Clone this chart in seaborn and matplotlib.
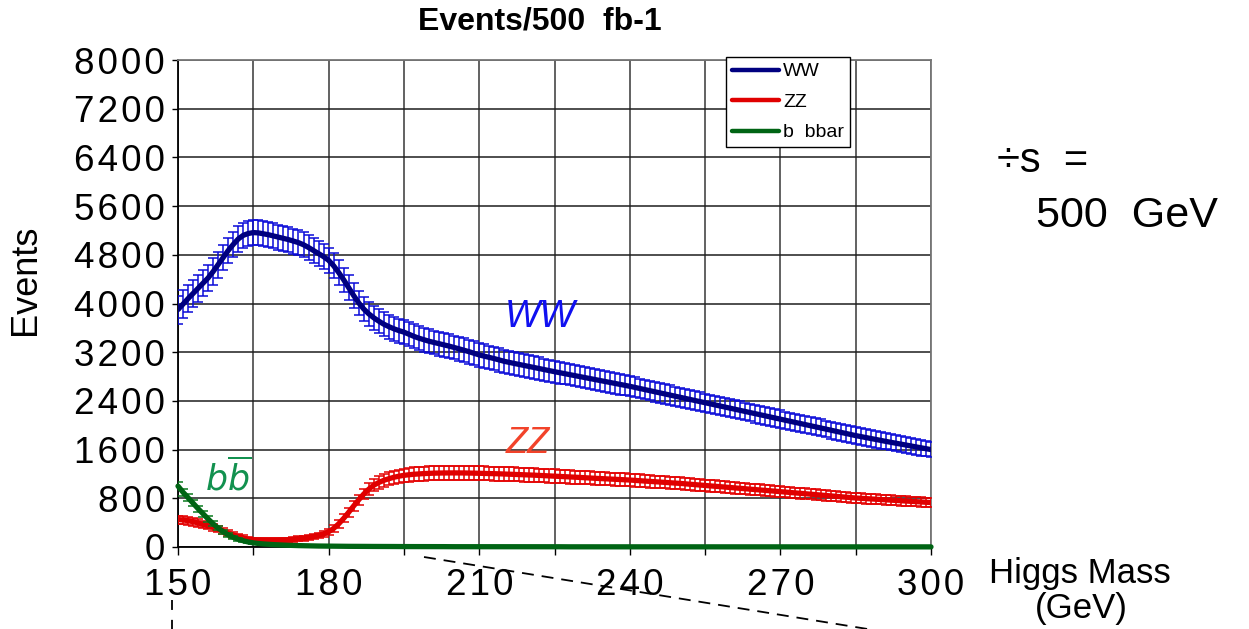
import matplotlib
matplotlib.use("Agg")
import matplotlib.pyplot as plt
from matplotlib.lines import Line2D
from matplotlib.ticker import FixedLocator, FixedFormatter, MultipleLocator
import pandas as pd
import seaborn as sns

# Higgs mass scan, 1 GeV steps
MASS = list(range(150, 301))

# H -> WW expected events per 500 fb-1
WW = [
    3900, 3990, 4080, 4165, 4250, 4335, 4420, 4525, 4640, 4755,
    4870, 4970, 5060, 5120, 5150, 5165, 5160, 5145, 5130, 5110,
    5090, 5070, 5050, 5025, 5000, 4965, 4920, 4870, 4820, 4770,
    4710, 4620, 4510, 4390, 4260, 4130, 4010, 3910, 3830, 3765,
    3710, 3660, 3620, 3585, 3555, 3530, 3495, 3460, 3430, 3405,
    3380, 3360, 3340, 3320, 3300, 3278, 3255, 3232, 3208, 3182,
    3155, 3135, 3115, 3095, 3072, 3050, 3032, 3015, 2998, 2982,
    2965, 2948, 2931, 2914, 2897, 2880, 2864, 2848, 2832, 2816,
    2800, 2784, 2768, 2752, 2736, 2720, 2704, 2688, 2672, 2656,
    2640, 2622, 2604, 2586, 2568, 2550, 2532, 2514, 2496, 2478,
    2460, 2442, 2424, 2406, 2388, 2370, 2352, 2334, 2316, 2298,
    2280, 2262, 2244, 2226, 2208, 2190, 2172, 2154, 2136, 2118,
    2100, 2082, 2064, 2046, 2028, 2010, 1992, 1974, 1956, 1938,
    1920, 1902, 1884, 1866, 1848, 1830, 1814, 1798, 1782, 1766,
    1750, 1735, 1720, 1705, 1690, 1675, 1660, 1645, 1630, 1615,
    1600,
]
WW_ERR = [
    230, 228, 226, 224, 222, 220, 218, 216, 214, 212,
    211, 210, 210, 209, 208, 208, 207, 207, 206, 206,
    205, 205, 205, 204, 204, 204, 203, 203, 203, 202,
    202, 202, 201, 201, 201, 200, 200, 200, 199, 199,
    199, 198, 198, 198, 197, 197, 197, 196, 196, 196,
    195, 195, 195, 195, 195, 195, 195, 195, 195, 195,
    195, 194, 193, 192, 191, 190, 189, 188, 187, 186,
    185, 184, 183, 182, 181, 180, 179, 178, 177, 176,
    175, 174, 173, 172, 171, 170, 169, 168, 167, 166,
    165, 164, 163, 162, 161, 160, 159, 158, 157, 156,
    155, 154, 153, 152, 151, 150, 150, 149, 149, 148,
    148, 147, 147, 146, 146, 145, 145, 144, 144, 143,
    143, 142, 142, 141, 141, 140, 140, 139, 139, 138,
    138, 137, 137, 136, 136, 135, 135, 134, 134, 133,
    133, 132, 132, 131, 131, 130, 130, 129, 129, 128,
    128,
]

# H -> ZZ
ZZ = [
    450, 445, 432, 415, 395, 372, 350, 325, 295, 262,
    230, 200, 172, 148, 130, 118, 110, 106, 104, 105,
    108, 113, 118, 126, 135, 146, 158, 173, 192, 215,
    250, 305, 380, 470, 570, 675, 775, 870, 950, 1015,
    1060, 1095, 1122, 1145, 1163, 1177, 1187, 1195, 1201, 1206,
    1210, 1213, 1215, 1216, 1217, 1217, 1217, 1216, 1215, 1213,
    1211, 1209, 1207, 1205, 1202, 1199, 1196, 1193, 1190, 1187,
    1184, 1180, 1176, 1172, 1168, 1164, 1160, 1156, 1151, 1147,
    1143, 1138, 1134, 1129, 1125, 1120, 1116, 1112, 1108, 1104,
    1100, 1094, 1089, 1083, 1078, 1072, 1067, 1061, 1056, 1050,
    1045, 1038, 1031, 1025, 1018, 1011, 1004, 998, 991, 984,
    977, 970, 964, 957, 950, 943, 937, 930, 923, 917,
    910, 903, 896, 889, 882, 875, 868, 861, 854, 847,
    840, 833, 826, 819, 812, 805, 800, 795, 790, 785,
    780, 775, 770, 765, 760, 755, 750, 745, 740, 735,
    730,
]
ZZ_ERR = [
    66, 65, 64, 62, 60, 58, 56, 54, 52, 50,
    48, 46, 44, 42, 40, 38, 37, 36, 36, 36,
    36, 37, 38, 39, 40, 41, 42, 43, 45, 47,
    50, 54, 60, 66, 72, 78, 84, 89, 94, 98,
    101, 104, 106, 108, 110, 111, 112, 113, 114, 115,
    115, 115, 115, 115, 115, 115, 115, 115, 115, 115,
    115, 115, 114, 114, 114, 113, 113, 113, 112, 112,
    112, 111, 111, 111, 110, 110, 110, 109, 109, 109,
    108, 108, 107, 107, 106, 106, 105, 105, 104, 104,
    103, 103, 102, 102, 101, 101, 100, 100, 99, 99,
    98, 98, 97, 97, 96, 96, 95, 95, 94, 94,
    93, 93, 92, 92, 91, 91, 90, 90, 89, 89,
    88, 88, 87, 87, 86, 86, 86, 85, 85, 85,
    84, 84, 84, 83, 83, 83, 82, 82, 82, 81,
    81, 81, 80, 80, 80, 79, 79, 79, 78, 78,
    78,
]

# H -> b bbar
BB = [
    1000, 900, 810, 720, 630, 545, 460, 380, 310, 250,
    200, 160, 128, 102, 82, 68, 58, 50, 44, 39,
    35, 31, 28, 25, 23, 21, 19, 17, 16, 15,
    14, 13, 12, 12, 11, 11, 10, 10, 9, 9,
    9, 8, 8, 8, 7, 7, 7, 7, 6, 6,
    6, 6, 6, 6, 5, 5, 5, 5, 5, 5,
    5, 5, 5, 5, 4, 4, 4, 4, 4, 4,
    4, 4, 4, 4, 4, 4, 4, 3, 3, 3,
    3, 3, 3, 3, 3, 3, 3, 3, 3, 3,
    3, 3, 3, 3, 3, 3, 3, 3, 3, 2,
    2, 2, 2, 2, 2, 2, 2, 2, 2, 2,
    2, 2, 2, 2, 2, 2, 2, 2, 2, 2,
    2, 2, 2, 2, 2, 2, 2, 2, 2, 2,
    2, 2, 2, 2, 2, 2, 2, 2, 2, 2,
    2, 2, 2, 2, 2, 2, 2, 2, 2, 2,
    2,
]
BB_ERR = [
    62, 58, 55, 52, 49, 46, 42, 39, 35, 32,
    29, 26, 23, 21, 19, 17, 15, 14, 13, 12,
    11, 10, 10, 9, 9, 8, 8, 8, 7, 7,
    7, 7, 6, 6, 6, 6, 6, 6, 5, 5,
    5, 5, 5, 5, 5, 5, 5, 5, 5, 5,
    5, 5, 5, 5, 5, 5, 5, 5, 5, 5,
    5, 5, 5, 5, 4, 4, 4, 4, 4, 4,
    4, 4, 4, 4, 4, 4, 4, 4, 4, 4,
    4, 4, 4, 4, 4, 4, 4, 4, 4, 4,
    4, 4, 4, 4, 4, 4, 4, 4, 4, 4,
    4, 4, 4, 4, 4, 4, 4, 4, 4, 4,
    4, 4, 4, 4, 4, 4, 4, 4, 4, 4,
    4, 4, 4, 4, 4, 4, 4, 4, 4, 4,
    4, 4, 4, 4, 4, 4, 4, 4, 4, 4,
    4, 4, 4, 4, 4, 4, 4, 4, 4, 4,
    4,
]

SERIES = ["WW", "ZZ", "b  bbar"]
X_TICKS = [150, 180, 210, 240, 270, 300]
X_TICK_LABELS = ["150", "180", "210", "240", "270", "300"]
Y_TICKS = [0, 800, 1600, 2400, 3200, 4000, 4800, 5600, 6400, 7200, 8000]
Y_TICK_LABELS = ["0", "800", "1600", "2400", "3200", "4000", "4800",
                 "5600", "6400", "7200", "8000"]

sns.set_theme(style="white")
plt.rcParams["font.family"] = ["Liberation Sans", "DejaVu Sans"]
plt.rcParams["text.color"] = "black"
plt.rcParams["xtick.color"] = "black"
plt.rcParams["ytick.color"] = "black"
plt.rcParams["axes.labelcolor"] = "black"

HAIR = "\u200a"


def spaced(s):
    return HAIR.join(s)


W, H = 1249, 629
fig = plt.figure(figsize=(W / 100, H / 100), dpi=100)
ax = fig.add_axes([178 / W, 1 - 547 / H, (931 - 178) / W, (547 - 60) / H])

styles = {
    "WW": dict(values=WW, err=WW_ERR, line="#000080", bar="#0a0ad8", clip=True),
    "ZZ": dict(values=ZZ, err=ZZ_ERR, line="#e00000", bar="#e40000", clip=True),
    "b  bbar": dict(values=BB, err=BB_ERR, line="#006414", bar="#0a7a1e", clip=False),
}

for z, name in enumerate(SERIES):
    st = styles[name]
    df = pd.DataFrame({"mass": MASS, "events": st["values"]})
    ax.errorbar(MASS, st["values"], yerr=st["err"], fmt="none",
                ecolor=st["bar"], elinewidth=1.1, capsize=3.3, capthick=1.1,
                zorder=3 + 2 * z)
    sns.lineplot(data=df, x="mass", y="events", ax=ax, color=st["line"],
                 linewidth=3.8, estimator=None, legend=False,
                 zorder=4 + 2 * z, clip_on=st["clip"])

ax.set_xlim(150, 300)
ax.set_ylim(0, 8000)
ax.xaxis.set_major_locator(FixedLocator(X_TICKS))
ax.xaxis.set_major_formatter(FixedFormatter([spaced(t) for t in X_TICK_LABELS]))
ax.xaxis.set_minor_locator(MultipleLocator(15))
ax.yaxis.set_major_locator(FixedLocator(Y_TICKS))
ax.yaxis.set_major_formatter(FixedFormatter([spaced(t) for t in Y_TICK_LABELS]))

ax.tick_params(axis="x", which="both", direction="out", length=6, width=1,
               color="black", labelcolor="black", bottom=True, pad=9,
               labelsize=26.5)
ax.tick_params(axis="y", which="major", direction="out", length=4.3, width=1,
               color="black", labelcolor="black", left=True, pad=5,
               labelsize=26.5)
ax.set_xlabel("")
ax.set_ylabel("")

ax.grid(False)
ax.xaxis.grid(True, which="both", color="#555555", linewidth=1.3)
ax.yaxis.grid(True, which="major", color="#1e1e1e", linewidth=1.1)
ax.set_axisbelow(True)
for side in ("left", "bottom"):
    ax.spines[side].set_color("black")
    ax.spines[side].set_linewidth(1.3)
for side in ("top", "right"):
    ax.spines[side].set_color("#777777")
    ax.spines[side].set_linewidth(1.3)

# Legend
handles = [Line2D([0], [0], color=styles[n]["line"], linewidth=3.2) for n in SERIES]
leg = fig.legend(handles, SERIES, loc="upper left",
                 bbox_to_anchor=(726 / W, 1 - 57 / H), bbox_transform=fig.transFigure,
                 borderaxespad=0, fontsize=14, frameon=True, fancybox=False,
                 edgecolor="black", borderpad=0.3, handlelength=2.4,
                 handletextpad=0.25, labelspacing=0.66)
leg.get_frame().set_linewidth(1.0)
leg.get_frame().set_facecolor("white")
leg.get_frame().set_alpha(1)
for t in leg.get_texts():
    t.set_color("black")

# Channel labels on the curves
ax.text(222.1, 3615, "WW", color="#1010f0", fontsize=27, style="italic",
        ha="center", va="baseline", zorder=10)
ax.text(219.6, 1544, "ZZ", color="#f2432a", fontsize=26, style="italic",
        ha="center", va="baseline", zorder=10)
ax.text(159.9, 936, r"$b\overline{b}$", color="#12914f", fontsize=25,
        ha="center", va="baseline", zorder=10)

# Titles and axis captions
fig.text(540 / W, 1 - 21 / H, "Events/500  fb-1", fontsize=23, fontweight="bold",
         ha="center", va="center")
fig.text(25 / W, 1 - 280 / H, "Events", fontsize=26, rotation=90,
         ha="center", va="center")
fig.text(1080 / W, 1 - 583 / H, "Higgs Mass", fontsize=25, ha="center", va="baseline")
fig.text(1081 / W, 1 - 618 / H, "(GeV)", fontsize=25, ha="center", va="baseline")
fig.text(997 / W, 1 - 172 / H, "÷s  =", fontsize=30, ha="left", va="baseline")
fig.text(1036 / W, 1 - 227 / H, "500  GeV", fontsize=31, ha="left", va="baseline")

# Dashed guide lines under the axis
fig.add_artist(Line2D([172 / W, 172 / W], [1 - 600 / H, 1 - 632 / H],
                      transform=fig.transFigure, color="black", linewidth=1.3,
                      linestyle=(0, (5.5, 5.5))))
fig.add_artist(Line2D([424 / W, 886 / W], [1 - 557 / H, 1 - 632 / H],
                      transform=fig.transFigure, color="black", linewidth=1.3,
                      linestyle=(0, (6.6, 4.4))))

fig.savefig("out.png", dpi=100)
